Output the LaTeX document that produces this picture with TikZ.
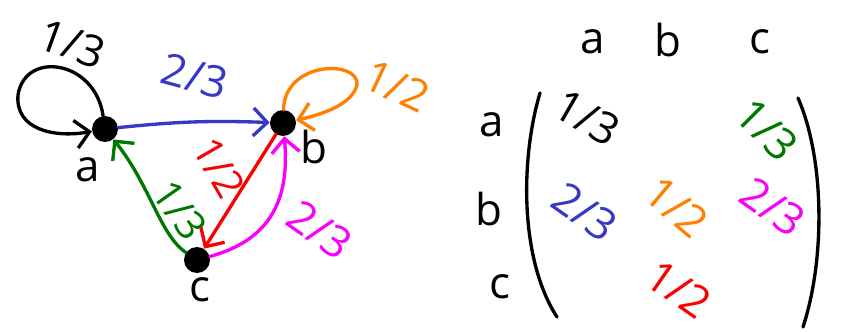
\documentclass[tikz,border=0pt]{standalone}
\usepackage{fontspec}
\setmainfont{Open Sans}
\usepackage{xcolor}
\usetikzlibrary{arrows.meta, positioning}

\definecolor{penblue}{RGB}{55,55,200}
\definecolor{penorange}{RGB}{255,128,0}
\definecolor{pengreen}{RGB}{0,120,0}
\definecolor{penred}{RGB}{250,0,0}
\definecolor{penmagenta}{RGB}{250,0,250}

\begin{document}
\begin{tikzpicture}[
    x=0.02cm, y=-0.02cm,
    font=\fontsize{25}{28}\selectfont,
    dot/.style={circle, fill=black, minimum size=0.52cm, inner sep=0pt},
    lab/.style={inner sep=1pt},
    arr/.style={-{Straight Barb[length=2.8mm, width=5.6mm]}, line width=1.9pt, line cap=round},
    paren/.style={line width=1.9pt, line cap=round},
]
\useasboundingbox (0,0) rectangle (847,331);

% graph
\node[dot] (a) at (105,129) {};
\node[dot] (b) at (283,123) {};
\node[dot] (c) at (197,260) {};
\node[lab] (la) at (88,170) {a};
\node[lab] (lb) at (314,147) {b};
\node[lab] (lc) at (200,290) {c};

\draw[arr] (a) .. controls (95,60) and (25,50) .. (18,95) .. controls (15,130) and (55,138) .. (a);
\node[lab, rotate=-20] (waa) at (72,44) {1/3};

\draw[arr, penblue] (a) to[bend left=4] (b);
\node[lab, penblue, rotate=-15] (wab) at (195,76) {2/3};

\draw[arr, penorange] (b) .. controls (285,60) and (360,60) .. (357,85) .. controls (352,105) and (320,115) .. (b);
\node[lab, penorange, rotate=-25] (wbb) at (397,86) {1/2};

\draw[arr, pengreen] (c) .. controls (160,235) and (150,185) .. (a);
\node[lab, pengreen, rotate=-55, font=\fontsize{23}{26}\selectfont] (wca) at (180,210) {1/3};

\draw[arr, penred] (b) -- (c);
\node[lab, penred, rotate=-60, font=\fontsize{23}{26}\selectfont] (wbc) at (219,168) {1/2};

\draw[arr, penmagenta] (c) .. controls (270,240) and (290,200) .. (b);
\node[lab, penmagenta, rotate=-35] (wcb) at (320,230) {2/3};

% matrix
\node[lab] (ha) at (593,42) {a};
\node[lab] (hb) at (668,40) {b};
\node[lab] (hc) at (760,42) {c};
\node[lab] (ra) at (492,125) {a};
\node[lab] (rb) at (489,209) {b};
\node[lab] (rc) at (500,287) {c};

\node[lab, rotate=-30] (m11) at (587,118) {1/3};
\node[lab, pengreen, rotate=-45] (m13) at (767,130) {1/3};
\node[lab, penblue, rotate=-35] (m21) at (585,212) {2/3};
\node[lab, penorange, rotate=-40] (m22) at (677,207) {1/2};
\node[lab, penmagenta, rotate=-35] (m23) at (773,207) {2/3};
\node[lab, penred, rotate=-35] (m32) at (679,289) {1/2};

\coordinate (lp1) at (540,93);
\coordinate (lp2) at (557,317);
\coordinate (rp1) at (798,98);
\coordinate (rp2) at (803,327);
\draw[paren] (lp1) .. controls (520,160) and (520,260) .. (lp2);
\draw[paren] (rp1) .. controls (825,160) and (825,260) .. (rp2);

\end{tikzpicture}
\end{document}
